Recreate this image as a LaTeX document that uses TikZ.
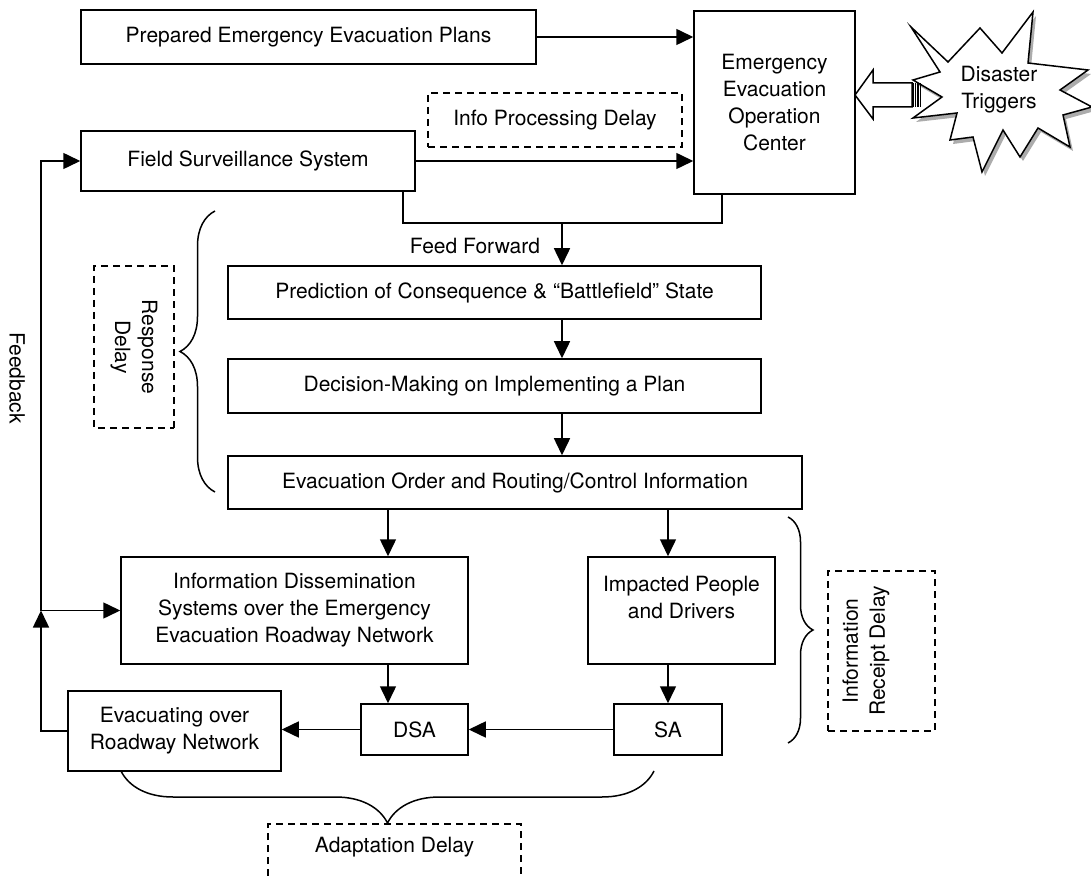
\documentclass[tikz,border=0pt]{standalone}
\usepackage{fontspec}
\setmainfont{TeX Gyre Heros}
\usetikzlibrary{arrows.meta, calc, decorations.pathreplacing}

\begin{document}
\begin{tikzpicture}[
    x=0.5pt, y=-0.5pt,
    font=\fontsize{10.5}{13.5}\selectfont,
    % Node Styles
    box/.style={draw=black, line width=0.75pt, fill=white, align=center, inner sep=2pt},
    delaybox/.style={draw=black, line width=0.75pt, dash pattern=on 3.5pt off 2.5pt, align=center, inner sep=2pt},
    % Edge Styles
    flow/.style={-{Triangle[length=8.5pt, width=8pt]}, line width=0.75pt},
    link/.style={line width=0.75pt},
    bracket/.style={decorate, line width=0.75pt, decoration={brace, amplitude=#1}}
]

\fill[white] (0,0) rectangle (1091,876);
\useasboundingbox (0,0) rectangle (1091,876);

% Main boxes
\node[box, minimum width=227.5pt, minimum height=27pt] (plans) at (308.5,37) {Prepared Emergency Evacuation Plans};
\node[box, minimum width=80.5pt, minimum height=91.5pt] (eeoc) at (774.5,102.5) {Emergency\\Evacuation\\Operation\\Center};
\node[box, minimum width=167pt, minimum height=30pt] (fss) at (248,161) {Field Surveillance System};
\node[box, minimum width=266.5pt, minimum height=26.5pt] (pred) at (494.5,292.5) {Prediction of Consequence \& “Battlefield” State};
\node[box, minimum width=266.5pt, minimum height=27pt] (decide) at (494.5,386) {Decision-Making on Implementing a Plan};
\node[box, minimum width=287pt, minimum height=26.5pt] (order) at (515,482.5) {Evacuation Order and Routing/Control Information};
\node[box, minimum width=173.5pt, minimum height=53.5pt] (ids) at (294.5,610.5) {Information Dissemination\\Systems over the Emergency\\Evacuation Roadway Network};
\node[box, minimum width=93.5pt, minimum height=53.5pt] (people) at (681.5,610.5) {Impacted People\\and Drivers\\\mbox{}};
\node[box, minimum width=106.5pt, minimum height=40pt] (evac) at (174.5,731) {Evacuating over\\Roadway Network};
\node[box, minimum width=53.5pt, minimum height=25.5pt] (dsa) at (414.5,729.5) {DSA};
\node[box, minimum width=54pt, minimum height=25.5pt] (sa) at (668,729.5) {SA};

% Delay boxes
\node[delaybox, minimum width=127pt, minimum height=27pt] (ipdelay) at (555,120) {Info Processing Delay};
\node[delaybox, rotate=-90, minimum width=81pt, minimum height=40pt] (rdelay) at (134,347) {Response\\Delay};
\node[delaybox, minimum width=53.5pt, minimum height=80pt] (irdelay) at (881.5,651) {};
\node[rotate=90, align=center] (irtext) at (866,651) {Information\\Receipt Delay};
\draw[link, dash pattern=on 3.5pt off 2.5pt] (268,876) |- (521,824) -- (521,876);
\node (adtext) at (394.5,847) {Adaptation Delay};

% Labels
\node[rotate=-90] (feedback) at (17,378) {Feedback};
\node (ffwd) at (475,246) {Feed Forward};

% Disaster star with shadow
\fill[gray!65, shift={(3,4)}] (911,27) -- (948,62) -- (980,28) -- (1002,53) -- (1033,12) -- (1028,63) -- (1088,70) -- (1060,90) -- (1092,107) -- (1063,115) -- (1070,147) -- (1038,128) -- (1020,157) -- (1003,130) -- (982,172) -- (973,137) -- (950,140) -- (957,113) -- (913,118) -- (942,97) -- (913,80) -- (940,72) -- cycle;
\filldraw[fill=white, link] (911,27) -- (948,62) -- (980,28) -- (1002,53) -- (1033,12) -- (1028,63) -- (1088,70) -- (1060,90) -- (1092,107) -- (1063,115) -- (1070,147) -- (1038,128) -- (1020,157) -- (1003,130) -- (982,172) -- (973,137) -- (950,140) -- (957,113) -- (913,118) -- (942,97) -- (913,80) -- (940,72) -- cycle;
\node[align=center] (trigger) at (999,90) {Disaster\\Triggers};

% Fat arrow from the star
\coordinate (fat) at (855,95);
\filldraw[fill=white, link] (fat) -- ++(18,-25) -- ++(0,13) -- ++(39,0) -- ++(0,24) -- ++(-39,0) -- ++(0,12) -- cycle;
\foreach \s in {58,60.5,63,65.5} {
    \draw[line width=0.7pt] ($(fat)+(\s,-12)$) -- ++(0,24);
}

% Top connectors
\draw[flow] (plans) -- (plans -| eeoc.west);
\draw[flow] (fss.east) -- (fss.east -| eeoc.west);
\coordinate (ff) at (562,223);
\draw[link] ([xshift=-6.5pt]fss.south east) |- (ff) -| ([xshift=-26.25pt]eeoc.south);
\draw[flow] (ff) -- (ff |- pred.north);
\draw[flow] (pred.south -| ff) -- (decide.north -| ff);
\draw[flow] (decide.south -| ff) -- (order.north -| ff);

% Lower connectors
\coordinate (lcol) at (388,0);
\coordinate (rcol) at (668,0);
\draw[flow] (order.south -| lcol) -- (ids.north -| lcol);
\draw[flow] (order.south -| rcol) -- (people.north -| rcol);
\draw[flow] (ids.south -| lcol) -- (dsa.north -| lcol);
\draw[flow] (people.south -| rcol) -- (sa.north);
\draw[flow] (sa.west) -- (dsa.east);
\draw[flow] (dsa.west) -- (evac.east |- dsa.west);

% Feedback loop
\coordinate (fb) at (41,610.5);
\draw[flow] (evac.west) -| (fb);
\draw[flow] (fb) -- (ids.west);
\draw[flow] (fb) |- (fss.west);

% Braces
\draw[bracket=17.5pt] (215,492) -- (215,211);
\draw[bracket=12.5pt] (788,517) -- (788,743);
\draw[bracket=26pt] (654,771) -- (121,771);

\end{tikzpicture}
\end{document}
